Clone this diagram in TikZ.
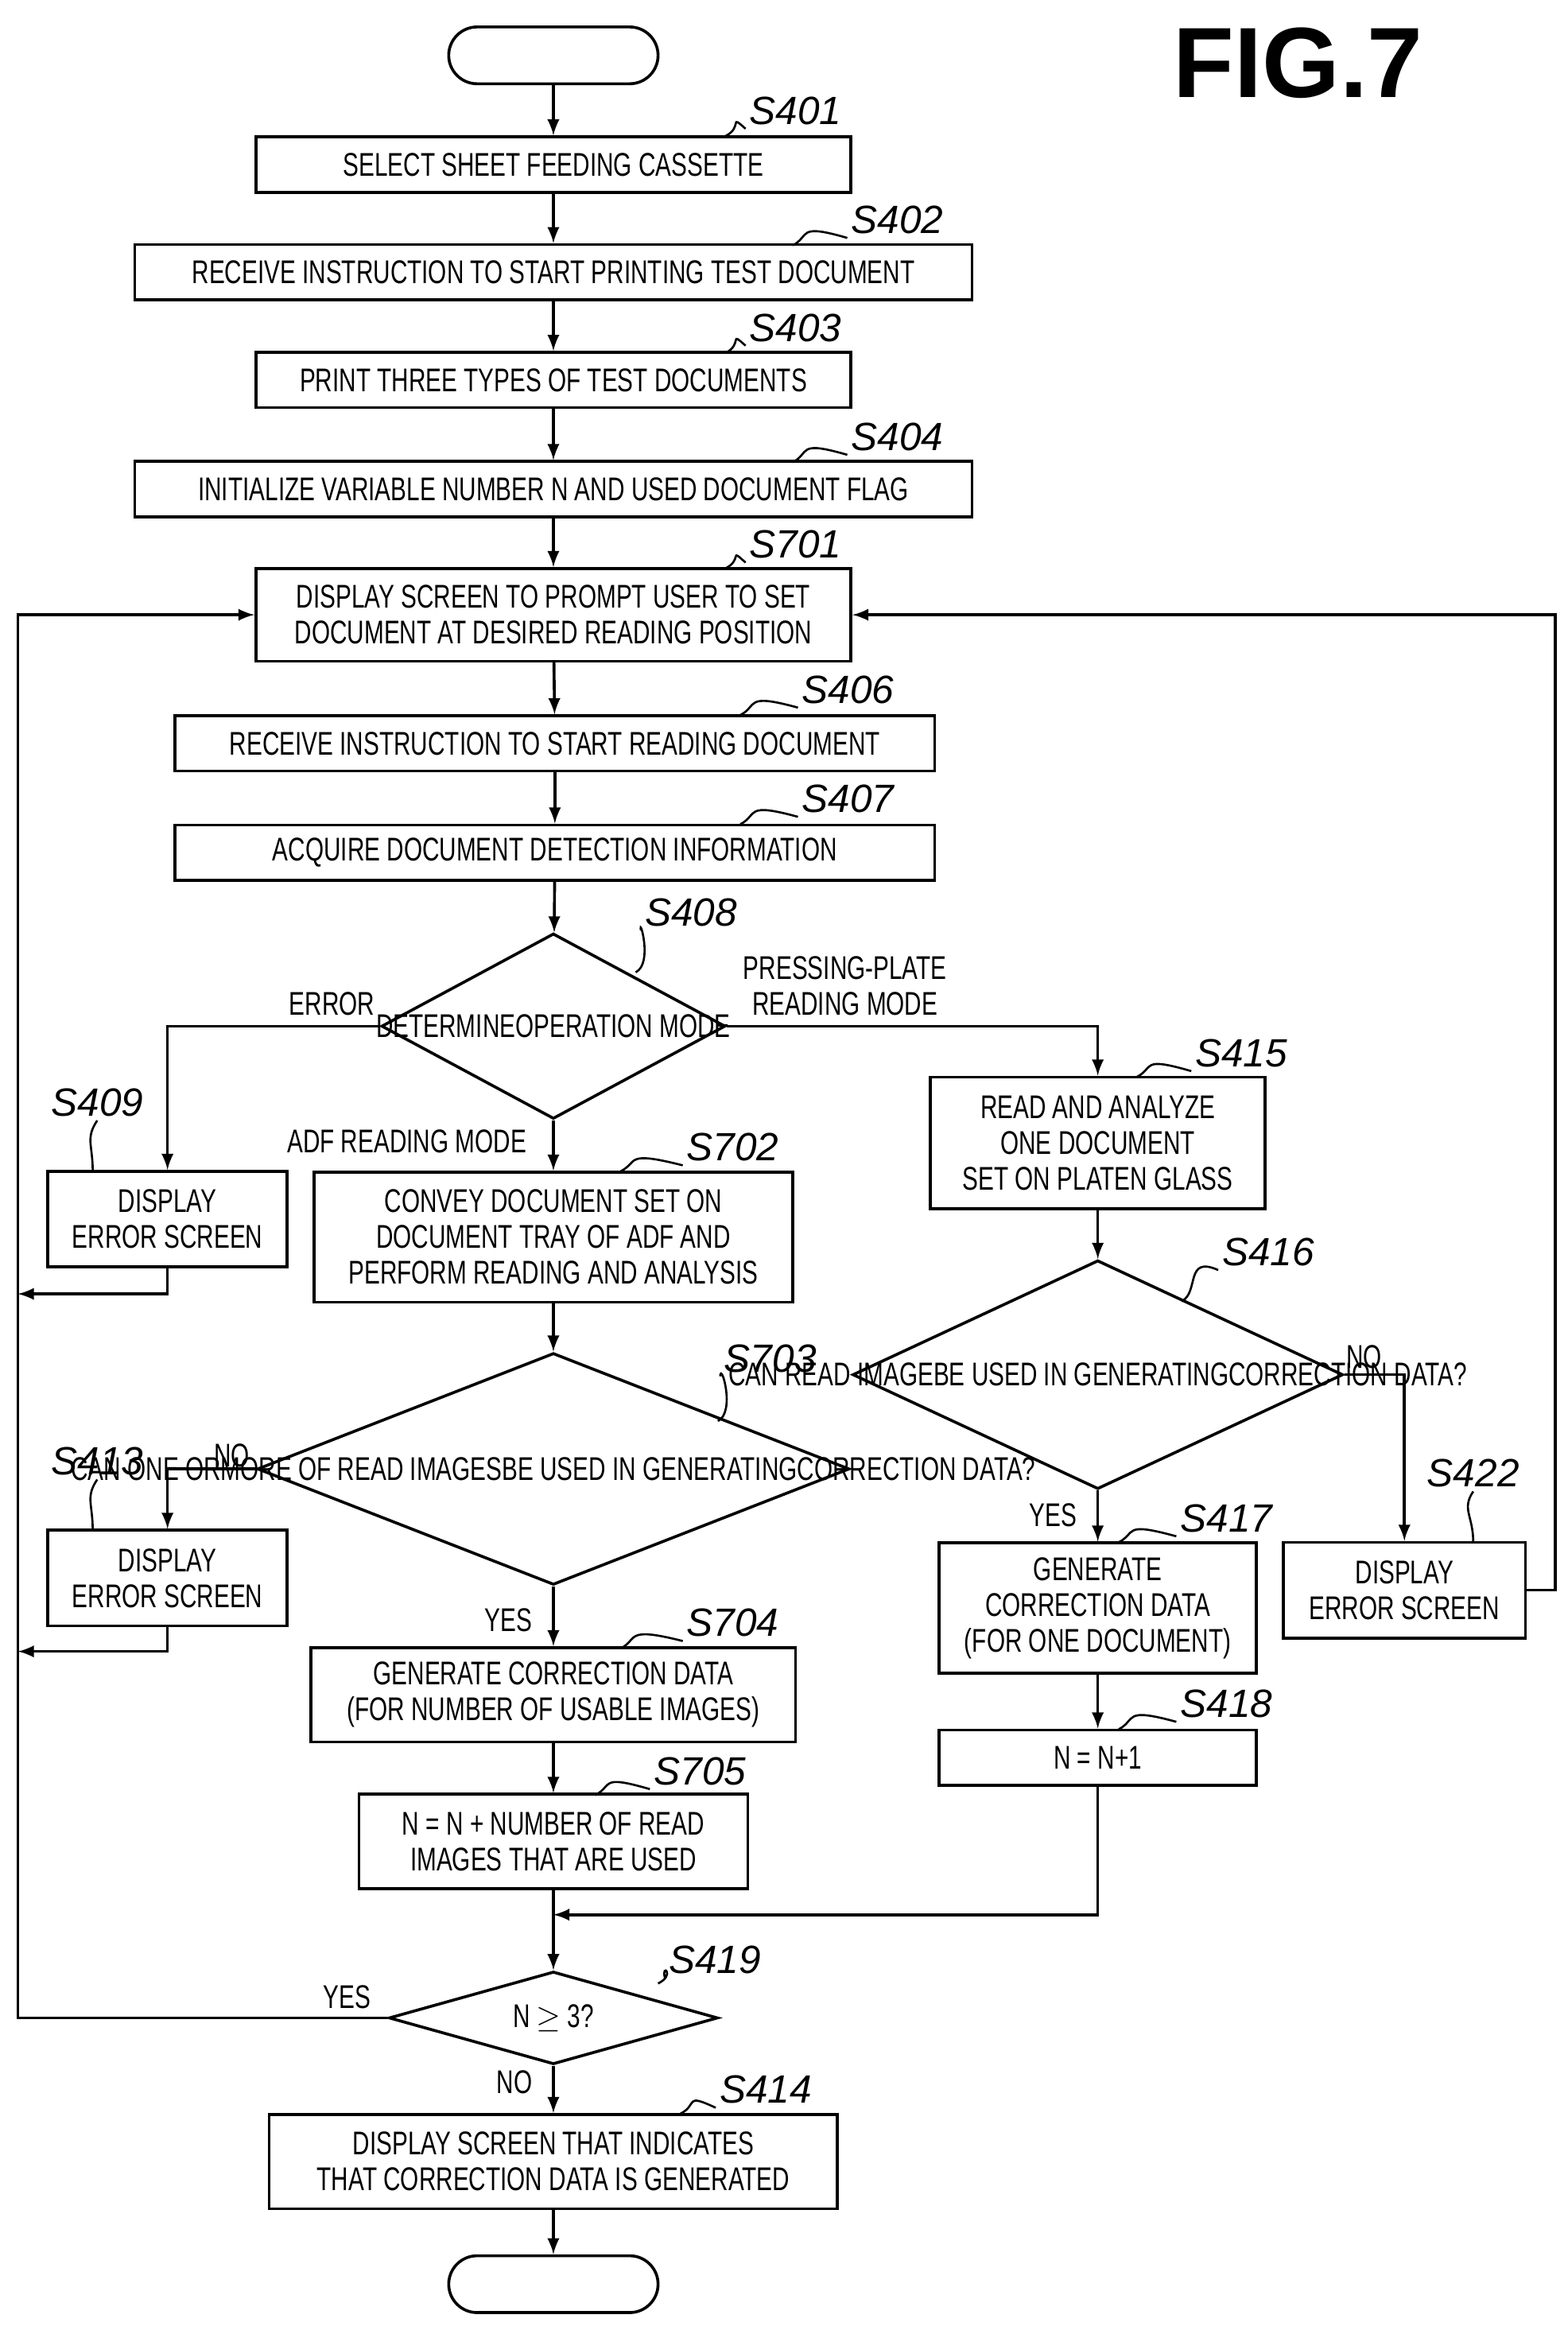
\documentclass[tikz,border=0pt]{standalone}
\usepackage{fontspec}
\setmainfont[FakeStretch=0.72]{Liberation Sans}
\newfontfamily\labfont{Liberation Sans}
\usetikzlibrary{shapes.geometric}
\begin{document}
\begin{tikzpicture}[x=0.02cm,y=-0.02cm,->,>=latex,line width=1.1pt,
    font=\fontsize{12.5}{13.6}\selectfont]
    \tikzstyle{box}=[draw,rectangle,-,align=center,inner sep=0pt]
    \tikzstyle{term}=[draw,-,rectangle,rounded corners=0.38cm,minimum width=2.8cm,minimum height=0.76cm]
    \tikzstyle{decide}=[draw,-,diamond,inner sep=0pt,align=center]
    \tikzstyle{steplabel}=[font=\labfont\itshape\fontsize{15}{15}\selectfont,inner sep=1pt]
    \tikzstyle{lead}=[-,line width=0.8pt]
    \tikzstyle{annot}=[align=center,inner sep=1pt]

    \useasboundingbox (0,0) rectangle (1048,1563);
    \node[font=\labfont\bfseries\fontsize{38}{38}\selectfont] (fig) at (868,42) {FIG.7};

    %main column
    \node[term] (start) at (370,37) {};
    \node[box,minimum width=7.96cm,minimum height=0.74cm] (s401) at (370,110) {SELECT SHEET FEEDING CASSETTE};
    \node[box,minimum width=11.2cm,minimum height=0.74cm] (s402) at (370,182) {RECEIVE INSTRUCTION TO START PRINTING TEST DOCUMENT};
    \node[box,minimum width=7.96cm,minimum height=0.74cm] (s403) at (370,254) {PRINT THREE TYPES OF TEST DOCUMENTS};
    \node[box,minimum width=11.2cm,minimum height=0.74cm] (s404) at (370,327) {INITIALIZE VARIABLE NUMBER N AND USED DOCUMENT FLAG};
    \node[box,minimum width=7.96cm,minimum height=1.24cm] (s701) at (370,411) {DISPLAY SCREEN TO PROMPT USER TO SET\\DOCUMENT AT DESIRED READING POSITION};
    \node[box,minimum width=10.16cm,minimum height=0.74cm] (s406) at (371,497) {RECEIVE INSTRUCTION TO START READING DOCUMENT};
    \node[box,minimum width=10.16cm,minimum height=0.74cm] (s407) at (371,570) {ACQUIRE DOCUMENT DETECTION INFORMATION};
    \node[decide,minimum width=4.6cm,minimum height=2.48cm,label=center:{DETERMINE\\OPERATION MODE}] (d408) at (370,686) {};
    \node[box,minimum width=3.2cm,minimum height=1.28cm] (s409) at (112,815) {DISPLAY\\ERROR SCREEN};
    \node[box,minimum width=6.4cm,minimum height=1.74cm] (s702) at (370,827) {CONVEY DOCUMENT SET ON\\DOCUMENT TRAY OF ADF AND\\PERFORM READING AND ANALYSIS};
    \node[decide,minimum width=7.92cm,minimum height=3.1cm,label=center:{CAN ONE OR\\MORE OF READ IMAGES\\BE USED IN GENERATING\\CORRECTION DATA?}] (d703) at (370,982) {};
    \node[box,minimum width=3.2cm,minimum height=1.28cm] (s413) at (112,1055) {DISPLAY\\ERROR SCREEN};
    \node[box,minimum width=6.48cm,minimum height=1.26cm] (s704) at (370,1133) {GENERATE CORRECTION DATA\\(FOR NUMBER OF USABLE IMAGES)};
    \node[box,minimum width=5.2cm,minimum height=1.26cm] (s705) at (370,1231) {N = N + NUMBER OF READ\\IMAGES THAT ARE USED};
    \node[decide,minimum width=4.4cm,minimum height=1.24cm,label=center:{N $\geq$ 3?}] (d419) at (370,1349) {};
    \node[box,minimum width=7.6cm,minimum height=1.26cm] (s414) at (370,1445) {DISPLAY SCREEN THAT INDICATES\\THAT CORRECTION DATA IS GENERATED};
    \node[term] (end) at (370,1527) {};

    %right column
    \node[box,minimum width=4.48cm,minimum height=1.76cm] (s415) at (734,764) {READ AND ANALYZE\\ONE DOCUMENT\\SET ON PLATEN GLASS};
    \node[decide,minimum width=6.56cm,minimum height=3.06cm,label=center:{CAN READ IMAGE\\BE USED IN GENERATING\\CORRECTION DATA?}] (d416) at (734,919) {};
    \node[box,minimum width=4.24cm,minimum height=1.74cm] (s417) at (734,1075) {GENERATE\\CORRECTION DATA\\(FOR ONE DOCUMENT)};
    \node[box,minimum width=3.24cm,minimum height=1.28cm] (s422) at (939,1063) {DISPLAY\\ERROR SCREEN};
    \node[box,minimum width=4.24cm,minimum height=0.74cm] (s418) at (734,1175) {N = N+1};

    %links
    \draw (start) -- (s401);
    \draw (s401) -- (s402);
    \draw (s402) -- (s403);
    \draw (s403) -- (s404);
    \draw (s404) -- (s701);
    \draw (s701) -- (s406);
    \draw (s406) -- (s407);
    \draw (s407) -- (d408);
    \draw (d408.west) -| (s409.north);
    \draw (d408.east) -| (s415.north);
    \draw (d408) -- (s702);
    \draw (s702) -- (d703);
    \draw (d703.west) -| (s413.north);
    \draw (d703) -- (s704);
    \draw (s704) -- (s705);
    \draw (s705) -- (d419);
    \draw (d419) -- (s414);
    \draw (s414) -- (end);
    \draw (s415) -- (d416);
    \draw (d416) -- (s417);
    \draw (d416.east) -| (s422.north);
    \draw (s417) -- (s418);
    \draw (s418.south) |- (370,1280);
    \draw (d419.west) -| (12,411) -- (s701.west);
    \draw (s409.south) |- (12,865);
    \draw (s413.south) |- (12,1104);
    \draw (s422.east) -| (1040,411) -- (s701.east);

    % Annotate the branches
    \node[annot] (a-err) at (222,671) {ERROR};
    \node[annot] (a-pp) at (565,659) {PRESSING-PLATE\\READING MODE};
    \node[annot] (a-adf) at (272,763) {ADF READING MODE};
    \node[annot] (a-no1) at (155,973) {NO};
    \node[annot] (a-yes1) at (340,1083) {YES};
    \node[annot] (a-yes2) at (704,1013) {YES};
    \node[annot] (a-no2) at (912,907) {NO};
    \node[annot] (a-yes3) at (232,1335) {YES};
    \node[annot] (a-no3) at (344,1392) {NO};

    % step labels
    \foreach \name/\lx/\ly/\fx/\fy in {401/532/74/485/91, 402/600/147/530/164, 403/532/219/485/236,
        404/600/292/530/309, 701/532/364/485/380, 406/567/461/495/478, 407/567/534/495/551,
        408/462/610/425/650, 702/490/767/415/783, 415/830/704/760/720, 416/848/837/790/870,
        703/515/908/480/950, 417/820/1015/748/1031, 704/490/1085/415/1102, 418/820/1139/748/1156,
        705/468/1184/398/1200, 419/478/1310/440/1326, 414/512/1397/455/1413}
    {
        \node[steplabel] (l\name) at (\lx,\ly) {S\name};
        \draw[lead] (\fx,\fy) .. controls (\fx+12,\fy-6) and (\fx+2,\ly+2) .. (l\name.south west);
    }
    \foreach \name/\lx/\ly/\tx/\ty in {409/65/737/62/783, 413/65/977/62/1023, 422/985/985/985/1031}
    {
        \node[steplabel] (l\name) at (\lx,\ly) {S\name};
        \draw[lead] (l\name.south) .. controls +(-8,12) and (\tx,\ty-18) .. (\tx,\ty);
    }
\end{tikzpicture}
\end{document}
